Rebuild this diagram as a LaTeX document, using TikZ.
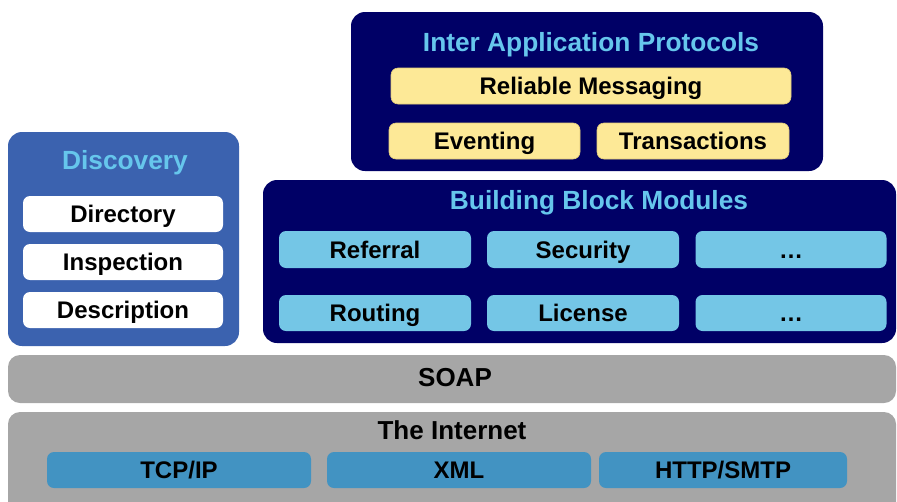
\documentclass[tikz,border=0pt]{standalone}
\usepackage{fontspec}
\setmainfont{Liberation Sans}
\definecolor{navy}{HTML}{000066}
\definecolor{discblue}{HTML}{3B62AF}
\definecolor{headblue}{HTML}{66C6EC}
\definecolor{modblue}{HTML}{74C6E6}
\definecolor{netblue}{HTML}{4293C2}
\definecolor{pale}{HTML}{FDE997}
\definecolor{paleedge}{HTML}{E2CC7A}
\definecolor{bargray}{HTML}{A6A6A6}
\tikzset{
  panel/.style={rounded corners=14pt, inner sep=0pt},
  bar/.style={rounded corners=12pt, inner sep=0pt, fill=bargray},
  % caps are centred on the node position: text height = cap height, no depth
  item/.style={rounded corners=7pt, inner sep=0pt, text=black,
    text height=17.2pt, text depth=0pt,
    font=\fontsize{24}{26}\selectfont\bfseries},
  heading/.style={inner sep=0pt, text=headblue,
    text height=18.8pt, text depth=0pt,
    font=\fontsize{26.3}{28}\selectfont\bfseries},
  label/.style={inner sep=0pt, text=black,
    text height=18.6pt, text depth=0pt,
    font=\fontsize{26}{28}\selectfont\bfseries},
  yellowitem/.style={item, fill=pale, draw=paleedge, line width=0.6pt},
  moditem/.style={item, fill=modblue},
  discitem/.style={item, fill=white},
  netitem/.style={item, fill=netblue},
}
\begin{document}
\begin{tikzpicture}[x=1pt,y=-1pt]
  \useasboundingbox (0,0) rectangle (897,501);
  \clip (0,0) rectangle (897,501);

  % Inter application protocols
  \node[panel, fill=navy, minimum width=472pt, minimum height=159pt] (iap) at (587,91.5) {};
  \node[heading] (iaptitle) at (591,42.5) {Inter Application Protocols};
  \node[yellowitem, minimum width=400pt, minimum height=36pt] (rm) at (591,86) {Reliable Messaging};
  \node[yellowitem, minimum width=191pt, minimum height=36pt] (ev) at (484.5,141) {Eventing};
  \node[yellowitem, minimum width=192pt, minimum height=36pt] (tr) at (693,141) {Transactions};

  % Building block modules
  \node[panel, fill=navy, minimum width=633pt, minimum height=163pt] (bbm) at (579.5,261.5) {};
  \node[heading] (bbmtitle) at (599,200) {Building Block Modules};
  \node[moditem, minimum width=192pt, minimum height=37pt] (ref) at (375,249.5) {Referral};
  \node[moditem, minimum width=192pt, minimum height=37pt] (sec) at (583,249.5) {Security};
  \node[moditem, minimum width=191pt, minimum height=37pt] (dotsa) at (791,249.5) {\ldots};
  \node[moditem, minimum width=192pt, minimum height=36pt] (rout) at (375,313) {Routing};
  \node[moditem, minimum width=192pt, minimum height=36pt] (lic) at (583,313) {License};
  \node[moditem, minimum width=191pt, minimum height=36pt] (dotsb) at (791,313) {\ldots};

  % Discovery
  \node[panel, fill=discblue, minimum width=231pt, minimum height=214pt] (disc) at (123.5,239) {};
  \node[heading] (disctitle) at (125,160) {Discovery};
  \node[discitem, minimum width=200pt, minimum height=36pt] (dir) at (123,214) {Directory};
  \node[discitem, minimum width=200pt, minimum height=36pt] (insp) at (123,262) {Inspection};
  \node[discitem, minimum width=200pt, minimum height=36pt] (desc) at (123,310) {Description};

  % SOAP layer
  \node[bar, minimum width=888pt, minimum height=48pt] (soap) at (452,379) {};
  \node[label] (soaptext) at (455,377.5) {SOAP};

  % Internet layer
  \node[bar, minimum width=888pt, minimum height=110pt] (net) at (452,467) {};
  \node[label] (nettitle) at (452,430) {The Internet};
  \node[netitem, minimum width=264pt, minimum height=36pt] (tcp) at (179,470) {TCP/IP};
  \node[netitem, minimum width=264pt, minimum height=36pt] (xml) at (459,470) {XML};
  \node[netitem, minimum width=248pt, minimum height=36pt] (http) at (723,470) {HTTP/SMTP};
\end{tikzpicture}
\end{document}
